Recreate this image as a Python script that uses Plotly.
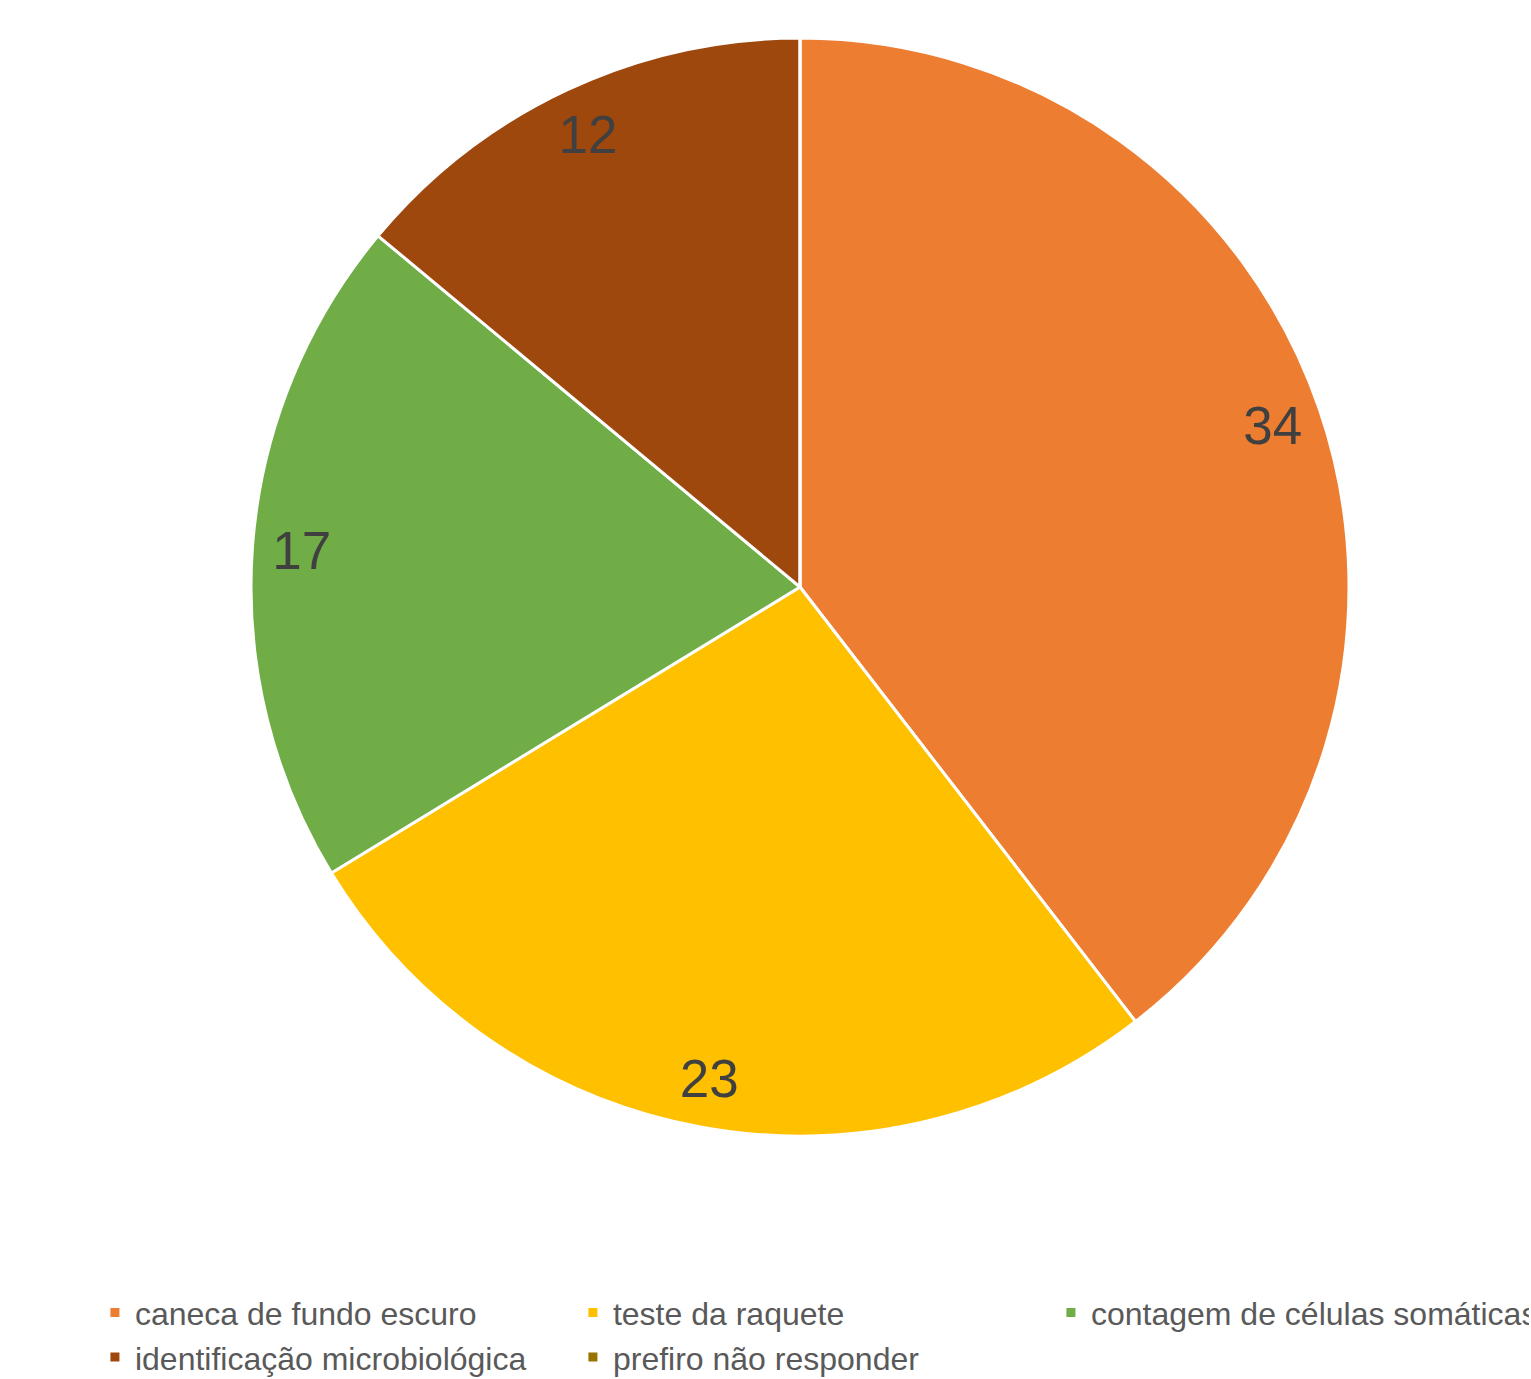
import plotly.graph_objects as go

categories = ["caneca de fundo escuro", "teste da raquete", "contagem de células somáticas",
              "identificação microbiológica", "prefiro não responder"]
values = [34, 23, 17, 12, 0]
colors = ["#ED7D31", "#FFC000", "#70AD47", "#9E480E", "#997300"]

W, H = 1531, 1379
cx, cy, r = 800, 587, 549
dom_x = [(cx - r) / W, (cx + r) / W]
dom_y = [(H - cy - r) / H, (H - cy + r) / H]

fig = go.Figure()
fig.add_trace(go.Pie(
    labels=categories, values=values, sort=False, direction="clockwise", rotation=0,
    marker=dict(colors=colors, line=dict(color="white", width=3)),
    textinfo="none", hoverinfo="label+value",
    domain=dict(x=dom_x, y=dom_y), showlegend=True,
))
# overlay ring used only to place the value labels near the rim
fig.add_trace(go.Pie(
    labels=categories, values=values, sort=False, direction="clockwise", rotation=0,
    hole=0.82,
    marker=dict(colors=["rgba(0,0,0,0)"] * len(values), line=dict(width=0)),
    texttemplate=[str(v) if v else "" for v in values],
    textposition="inside", insidetextorientation="horizontal",
    textfont=dict(family="Liberation Sans, Arial", size=53, color="#404040"),
    hoverinfo="skip", showlegend=False,
    domain=dict(x=dom_x, y=dom_y),
))

fig.update_layout(
    width=W, height=H,
    margin=dict(l=0, r=0, t=0, b=0, autoexpand=False),
    paper_bgcolor="white", plot_bgcolor="white",
    showlegend=True,
    legend=dict(
        orientation="h", x=0.062, xanchor="left", y=-0.0045, yanchor="bottom",
        entrywidth=433, entrywidthmode="pixels",
        font=dict(family="Liberation Sans, Arial", size=32, color="#595959"),
        bgcolor="rgba(0,0,0,0)", traceorder="normal",
    ),
)

fig.write_html("out.html")
